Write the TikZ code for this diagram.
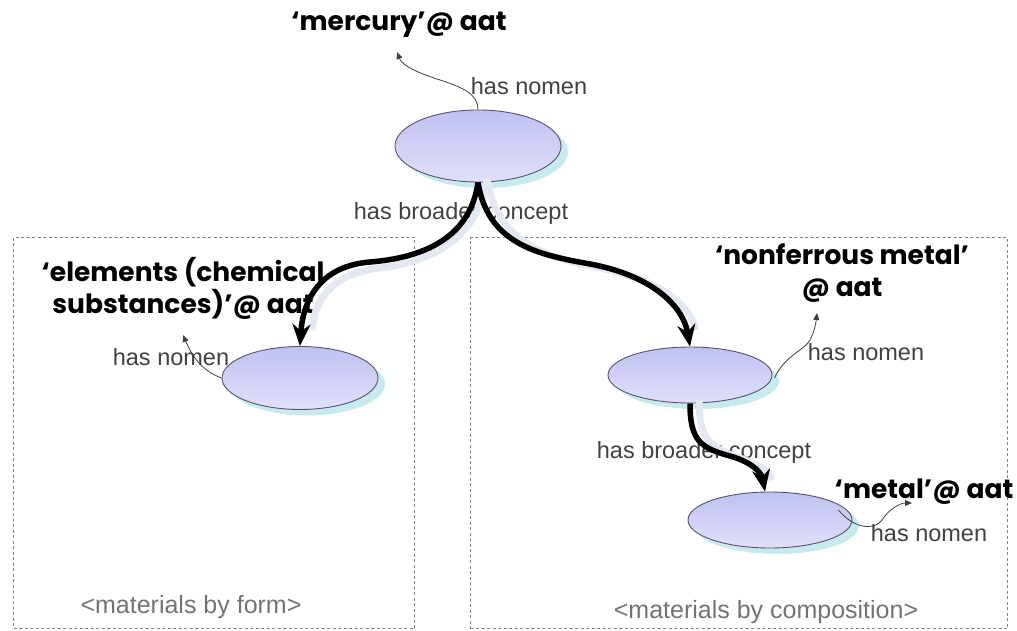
\documentclass[tikz,border=0pt]{standalone}
\usepackage{fontspec}
\setmainfont{Liberation Sans}
\newfontfamily\titlefont{Poppins}
\usetikzlibrary{shapes.geometric,arrows.meta,shadows}
\definecolor{ellfillA}{RGB}{192,192,244}
\definecolor{ellfillB}{RGB}{224,224,250}
\definecolor{ellline}{RGB}{85,85,105}
\definecolor{shadowcol}{RGB}{200,234,238}
\definecolor{labelcol}{RGB}{65,65,65}
\definecolor{groupcol}{RGB}{115,115,115}
\definecolor{boxcol}{RGB}{130,130,130}
\definecolor{arrowshadow}{RGB}{228,232,240}
\tikzset{
  concept/.style={ellipse, draw=ellline, line width=0.9pt, top color=ellfillA, bottom color=ellfillB,
    drop shadow={shadow xshift=7pt, shadow yshift=-6pt, fill=shadowcol, opacity=1}},
  term/.style={font=\titlefont\bfseries\fontsize{26.5}{32}\selectfont, align=center, inner sep=0pt},
  rel/.style={font=\fontsize{23.5}{28}\selectfont, text=labelcol, inner sep=0pt},
  grouplab/.style={font=\fontsize{25}{30}\selectfont, text=groupcol, inner sep=0pt},
  groupbox/.style={draw=boxcol, line width=1pt, dash pattern=on 3pt off 2.5pt},
  broader/.style={line width=5.5pt, -{Stealth[length=22pt,width=18pt]}},
  broadershadow/.style={line width=7pt, draw=arrowshadow},
  nomen/.style={line width=0.8pt, draw=black!75, -{Triangle[length=7pt,width=6pt]}}
}
\begin{document}
\begin{tikzpicture}[x=1pt,y=-1pt]
\useasboundingbox (0,0) rectangle (1017,631);
% group boxes
\node[groupbox, minimum width=401, minimum height=391, anchor=north west] (formbox) at (13,237) {};
\node[groupbox, minimum width=537, minimum height=391, anchor=north west] (compbox) at (470,237) {};
\node[grouplab] (formlab) at (191,607) {<materials by form>};
\node[grouplab] (complab) at (766,612) {<materials by composition>};
% concepts
\node[concept, minimum width=166, minimum height=72] (mercury) at (478,146) {};
\node[concept, minimum width=156, minimum height=63] (elements) at (300,378) {};
\node[concept, minimum width=164, minimum height=56] (nonferrous) at (690,375) {};
\node[concept, minimum width=164, minimum height=56] (metal) at (770,520) {};
% terms
\node[term] (tmercury) at (399,25) {‘mercury’@ aat};
\node[term] (telements) at (183,288) {‘elements (chemical\\ substances)’@ aat};
\node[term] (tnonferrous) at (842,273) {‘nonferrous metal’\\ @ aat};
\node[term] (tmetal) at (924,492) {‘metal’@ aat};
% relation labels
\node[rel] (r1) at (529,86) {has nomen};
\node[rel] (r2) at (171,357) {has nomen};
\node[rel] (r3) at (866,352) {has nomen};
\node[rel] (r4) at (929,533) {has nomen};
\node[rel] (b1) at (461,213) {has broader concept};
\node[rel] (b2) at (704,452) {has broader concept};
% nomen arrows
\coordinate (n1) at (397,52);
\coordinate (n2) at (183,335);
\coordinate (n3) at (817,313);
\coordinate (n4) at (912,503);
\draw[nomen] (mercury.north) .. controls (478,95) and (465,88) .. (440,80) .. controls (415,72) and (402,65) .. (n1);
\draw[nomen] (elements.west) .. controls (205,372) and (195,360) .. (190,350) .. controls (187,344) and (185,340) .. (n2);
\draw[nomen] ([xshift=2pt,yshift=-3pt]nonferrous.east) .. controls (785,355) and (805,350) .. (810,340) .. controls (815,330) and (816,322) .. (n3);
\draw[nomen] ([xshift=-14pt,yshift=10pt]metal.east) .. controls (855,530) and (875,530) .. (882,520) .. controls (888,510) and (900,503) .. (n4);
% broader arrow shadows
\draw[broadershadow] ([xshift=9pt,yshift=4pt]mercury.south) .. controls (478,240) and (430,262) .. (380,268) .. controls (330,274) and (315,300) .. (312,330);
\draw[broadershadow] ([xshift=9pt,yshift=4pt]mercury.south) .. controls (497,245) and (550,258) .. (600,268) .. controls (660,280) and (690,305) .. (696,330);
\draw[broadershadow] ([xshift=9pt,yshift=4pt]nonferrous.south) .. controls (699,440) and (710,448) .. (740,458) .. controls (762,466) and (770,472) .. (772,480);
% broader arrows
\draw[broader] (mercury.south) .. controls (470,240) and (420,258) .. (370,262) .. controls (320,266) and (303,300) .. (elements.north);
\draw[broader] (mercury.south) .. controls (488,245) and (540,255) .. (590,264) .. controls (650,275) and (683,305) .. (nonferrous.north);
\draw[broader] (nonferrous.south) .. controls (690,440) and (700,448) .. (730,456) .. controls (755,463) and (762,475) .. ([xshift=-5pt]metal.north);
\end{tikzpicture}
\end{document}
